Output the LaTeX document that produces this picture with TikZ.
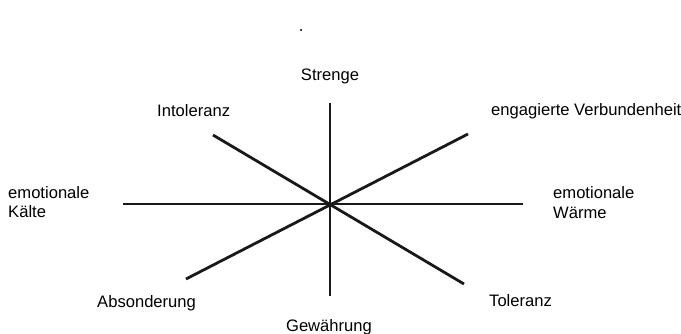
\documentclass[tikz,border=0pt]{standalone}
\usepackage{fontspec}
\setmainfont{Liberation Sans}
\usetikzlibrary{positioning}

\begin{document}
\begin{tikzpicture}[
  x=1pt, y=-1pt,
  pol/.style={
    inner sep=0pt, font=\fontsize{16.6}{19}\selectfont,
    align=left
  },
  achse/.style={
    line width=2.8pt, line cap=butt, color=black!90
  }
]
\useasboundingbox (0,0) rectangle (681,333);

% Mittelpunkt und Enden der Achsen
\coordinate (mitte) at (330,204);
\coordinate (oben)  at (330,103);
\coordinate (unten) at (330,296);
\coordinate (links) at (123,204);
\coordinate (rechts) at (523,204);
\coordinate (ol) at (213,135);
\coordinate (ur) at (464,284);
\coordinate (or) at (468,134);
\coordinate (ul) at (186,279);

\draw[achse] (oben) -- (unten);
\draw[achse] (links) -- (rechts);
\draw[achse] (ol) -- (ur);
\draw[achse] (or) -- (ul);

% Pole
\node[pol, anchor=base]      (strenge)  at (330,80)  {Strenge};
\node[pol, anchor=base]      (gewaehr)  at (329,331) {Gewährung};
\node[pol, anchor=base west] (intol)    at (157,116) {Intoleranz};
\node[pol, anchor=base west] (verbund)  at (491,115) {engagierte Verbundenheit};
\node[pol, anchor=base west] (absond)   at (97,307)  {Absonderung};
\node[pol, anchor=base west] (toleranz) at (489,306) {Toleranz};
\node[pol, anchor=base west] (kaelte1)  at (8,198)   {emotionale};
\node[pol, anchor=base west] (kaelte2)  at (8,217)   {Kälte};
\node[pol, anchor=base west] (waerme1)  at (553,198) {emotionale};
\node[pol, anchor=base west] (waerme2)  at (553,218) {Wärme};

\fill (301,30) circle (1.2pt);
\end{tikzpicture}
\end{document}
